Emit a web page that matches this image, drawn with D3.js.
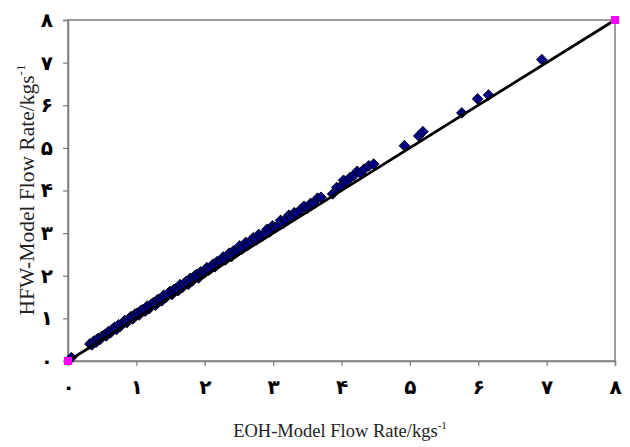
<!DOCTYPE html>
<html>
<head>
<meta charset="utf-8">
<script src="https://cdn.jsdelivr.net/npm/d3@7"></script>
<style>
  body { margin: 0; background: #fff; }
</style>
</head>
<body>
<div id="chart-area"></div>
<script>
const MARGIN = { LEFT: 68, RIGHT: 15, TOP: 20, BOTTOM: 86 }
const WIDTH = 630 - MARGIN.LEFT - MARGIN.RIGHT
const HEIGHT = 447 - MARGIN.TOP - MARGIN.BOTTOM

// tick labels (Persian digits)
const tickValues = [0, 1, 2, 3, 4, 5, 6, 7, 8]
const tickLabels = ["۰", "۱", "۲", "۳", "۴", "۵", "۶", "۷", "۸"]

// EOH model vs HFW model flow rate
const eohFlow = [0.05, 0.32, 0.35, 0.38, 0.41, 0.44, 0.47, 0.50, 0.53, 0.56, 0.59, 0.62, 0.65, 0.68,
  0.71, 0.74, 0.77, 0.80, 0.83, 0.86, 0.89, 0.92, 0.95, 0.98, 1.01, 1.04, 1.07, 1.10, 1.13, 1.16,
  1.19, 1.22, 1.25, 1.28, 1.31, 1.34, 1.37, 1.40, 1.43, 1.46, 1.49, 1.52, 1.55, 1.58, 1.61, 1.64,
  1.67, 1.70, 1.73, 1.76, 1.79, 1.82, 1.85, 1.88, 1.91, 1.94, 1.97, 2.00, 2.03, 2.06, 2.09, 2.12,
  2.15, 2.18, 2.21, 2.24, 2.27, 2.30, 2.33, 2.36, 2.39, 2.42, 2.45, 2.48, 2.51, 2.54, 2.57, 2.60,
  2.63, 2.67, 2.71, 2.75, 2.79, 2.83, 2.87, 2.91, 2.95, 2.99, 3.03, 3.07, 3.11, 3.15, 3.19, 3.23,
  3.27, 3.31, 3.35, 3.40, 3.45, 3.50, 3.55, 3.60, 3.65, 3.70, 3.87, 3.93, 3.99, 4.03, 4.08, 4.13,
  4.18, 4.23, 4.28, 4.33, 4.40, 4.47, 4.92, 5.13, 5.19, 5.76, 5.99, 6.15, 6.93]
const hfwFlow = [0.08, 0.40, 0.38, 0.47, 0.44, 0.53, 0.51, 0.58, 0.61, 0.59, 0.69, 0.66, 0.74, 0.79,
  0.74, 0.85, 0.82, 0.88, 0.95, 0.90, 0.99, 1.04, 0.99, 1.10, 1.12, 1.08, 1.19, 1.21, 1.17, 1.29,
  1.23, 1.33, 1.37, 1.31, 1.44, 1.45, 1.41, 1.54, 1.49, 1.58, 1.63, 1.56, 1.68, 1.70, 1.65, 1.79,
  1.72, 1.82, 1.87, 1.80, 1.94, 1.88, 1.99, 2.03, 1.95, 2.09, 2.05, 2.07, 2.19, 2.13, 2.18, 2.27,
  2.21, 2.33, 2.30, 2.33, 2.44, 2.37, 2.47, 2.53, 2.45, 2.58, 2.53, 2.57, 2.70, 2.62, 2.69, 2.78,
  2.72, 2.81, 2.89, 2.84, 2.97, 2.92, 2.99, 3.09, 3.03, 3.17, 3.14, 3.18, 3.30, 3.23, 3.33, 3.42,
  3.37, 3.48, 3.47, 3.55, 3.63, 3.58, 3.70, 3.69, 3.82, 3.84, 3.92, 4.07, 4.10, 4.24, 4.22, 4.31,
  4.35, 4.45, 4.41, 4.50, 4.58, 4.62, 5.05, 5.28, 5.38, 5.82, 6.15, 6.24, 7.07]

// reference line y = x and its end markers
const lineX = [0, 8]
const lineY = [0, 8]

const data = eohFlow.map((d, i) => ({ x: d, y: hfwFlow[i] }))
const ends = lineX.map((d, i) => ({ x: d, y: lineY[i] }))

const svg = d3.select("#chart-area").append("svg")
    .attr("width", 630)
    .attr("height", 447)

const g = svg.append("g")
    .attr("transform", `translate(${MARGIN.LEFT}, ${MARGIN.TOP})`)

const x = d3.scaleLinear().domain([0, 8]).range([0, WIDTH])
const y = d3.scaleLinear().domain([0, 8]).range([HEIGHT, 0])

// frame
g.append("rect")
    .attr("width", WIDTH)
    .attr("height", HEIGHT)
    .attr("fill", "none")
    .attr("stroke", "#7f7f7f")
    .attr("stroke-width", 1.5)

// x axis
const xAxisCall = d3.axisBottom(x)
    .tickValues(tickValues)
    .tickSize(5)
    .tickPadding(14)
    .tickFormat((d, i) => tickLabels[i])
const xAxis = g.append("g")
    .attr("transform", `translate(0, ${HEIGHT})`)
    .call(xAxisCall)

// y axis
const yAxisCall = d3.axisLeft(y)
    .tickValues(tickValues)
    .tickSize(5)
    .tickPadding(10)
    .tickFormat((d, i) => tickLabels[i])
const yAxis = g.append("g").call(yAxisCall)

;[xAxis, yAxis].forEach(a => {
  a.select(".domain").attr("stroke", "#7f7f7f").attr("stroke-width", 1.5)
  a.selectAll(".tick line").attr("stroke", "#7f7f7f").attr("stroke-width", 1.2)
  a.selectAll(".tick text")
    .attr("font-family", "DejaVu Sans")
    .attr("font-weight", "bold")
    .attr("font-size", "20px")
    .attr("fill", "#000")
})

// data points (diamonds)
g.selectAll(".pt")
    .data(data)
    .enter().append("path")
    .attr("class", "pt")
    .attr("d", d3.symbol().type(d3.symbolDiamond2).size(74))
    .attr("transform", d => `translate(${x(d.x)}, ${y(d.y)})`)
    .attr("fill", "#000080")
    .attr("stroke", "#000")
    .attr("stroke-width", 0.8)

// y = x line
g.append("path")
    .datum(ends)
    .attr("d", d3.line().x(d => x(d.x)).y(d => y(d.y)))
    .attr("stroke", "#000")
    .attr("stroke-width", 2.8)
    .attr("fill", "none")

g.selectAll(".end")
    .data(ends)
    .enter().append("rect")
    .attr("class", "end")
    .attr("x", d => x(d.x) - 4)
    .attr("y", d => y(d.y) - 4)
    .attr("width", 8)
    .attr("height", 8)
    .attr("fill", "#ff00ff")

// x label
const xl = svg.append("text")
    .attr("x", 340)
    .attr("y", 437)
    .attr("font-family", "Liberation Serif")
    .attr("font-size", "18.5px")
    .attr("fill", "#222")
    .attr("text-anchor", "middle")
xl.append("tspan").text("EOH-Model Flow Rate/kgs")
xl.append("tspan").attr("dy", -8).attr("font-size", "11px").text("-1")

// y label
const yl = svg.append("text")
    .attr("transform", "translate(34, 190) rotate(-90)")
    .attr("font-family", "Liberation Serif")
    .attr("font-size", "21.5px")
    .attr("fill", "#222")
    .attr("text-anchor", "middle")
yl.append("tspan").text("HFW-Model Flow Rate/kgs")
yl.append("tspan").attr("dy", -9).attr("font-size", "13px").text("-1")
</script>
</body>
</html>
